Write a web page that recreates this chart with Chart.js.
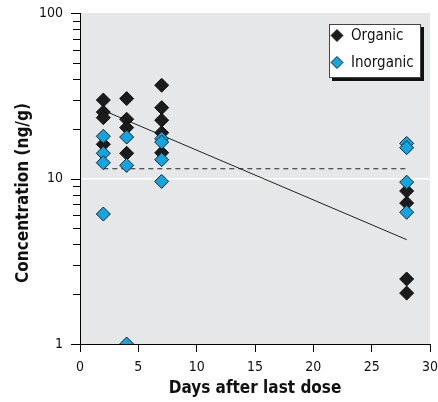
<!DOCTYPE html>
<html>
<head>
<meta charset="utf-8">
<script src="https://cdn.jsdelivr.net/npm/chart.js@4/dist/chart.umd.min.js"></script>
<style>
  html, body { margin: 0; padding: 0; background: #fff; }
  #wrap { width: 438px; height: 402px; }
</style>
</head>
<body>
<div id="wrap"><canvas id="c" width="438" height="402"></canvas></div>
<script>
// Days after last dose vs. concentration (ng/g), log scale
const organicDays = [2, 2, 2, 2, 4, 4, 4, 4, 7, 7, 7, 7, 7, 28, 28, 28, 28];
const organicConc = [29.8, 25.2, 23.3, 16.1, 30.4, 22.8, 20.3, 14.2, 36.6, 26.8, 22.5, 18.9, 14.3, 8.4, 7.1, 2.47, 2.03];

const inorganicDays = [2, 2, 2, 2, 4, 4, 4, 7, 7, 7, 7, 28, 28, 28, 28];
const inorganicConc = [18.0, 14.2, 12.45, 6.1, 17.8, 12.0, 1.0, 17.4, 16.6, 13.0, 9.6, 16.3, 15.35, 9.5, 6.25];

// fitted lines
const fitDays = [2, 28];
const fitConc = [25.8, 4.27];
const meanDays = [2, 28];
const meanConc = [11.45, 11.45];

const xTicks = [0, 5, 10, 15, 20, 25, 30];
const yTicks = [1, 2, 3, 4, 5, 6, 7, 8, 9, 10, 20, 30, 40, 50, 60, 70, 80, 90, 100];
const yLabels = [1, 10, 100];

const FONT = "'Liberation Sans Narrow', 'Arial Narrow', 'DejaVu Sans Condensed', sans-serif";
const blue = '#12a5e3';
const black = '#1c1c1c';

function pts(xs, ys) { return xs.map((x, i) => ({ x: x, y: ys[i] })); }

const bgPlugin = {
  id: 'plotBg',
  beforeDraw(chart) {
    const a = chart.chartArea, ctx = chart.ctx;
    ctx.save();
    ctx.fillStyle = '#e6e7e8';
    ctx.fillRect(a.left, a.top, a.right - a.left, a.bottom - a.top);
    ctx.restore();
  }
};

function diamond(ctx, x, y, r, fill) {
  ctx.beginPath();
  ctx.moveTo(x, y - r); ctx.lineTo(x + r, y); ctx.lineTo(x, y + r); ctx.lineTo(x - r, y);
  ctx.closePath();
  ctx.fillStyle = fill; ctx.fill();
  ctx.strokeStyle = '#222'; ctx.lineWidth = 1; ctx.stroke();
}

const extrasPlugin = {
  id: 'extras',
  afterDraw(chart) {
    const ctx = chart.ctx, ys = chart.scales.y;
    ctx.save();
    // log axis tick marks: long at decades, short in between
    ctx.fillStyle = '#000';
    yTicks.forEach(v => {
      const py = Math.round(ys.getPixelForValue(v));
      const len = yLabels.includes(v) ? 9 : 7;
      ctx.fillRect(Math.round(ys.right) - len, py, len, 1);
    });
    // legend box with drop shadow
    const bx = 329, by = 24, bw = 92, bh = 54;
    ctx.fillStyle = '#111';
    ctx.fillRect(bx + 3, by + 3, bw, bh);
    ctx.fillStyle = '#fff';
    ctx.fillRect(bx, by, bw, bh);
    ctx.strokeStyle = '#444'; ctx.lineWidth = 1;
    ctx.strokeRect(bx + 0.5, by + 0.5, bw - 1, bh - 1);
    const items = [chart.data.datasets[1], chart.data.datasets[0]];
    ctx.font = '15px ' + FONT;
    ctx.textBaseline = 'middle';
    items.forEach((d, i) => {
      const cy = by + 11.5 + i * 27;
      diamond(ctx, bx + 8, cy, 6, d.backgroundColor);
      ctx.fillStyle = '#111';
      ctx.fillText(d.label, bx + 22, cy + 1);
    });
    // y axis title
    ctx.translate(24, 193);
    ctx.rotate(-Math.PI / 2);
    ctx.font = 'bold 17px ' + FONT;
    ctx.textAlign = 'center';
    ctx.fillStyle = '#111';
    ctx.fillText('Concentration (ng/g)', 0, 0);
    ctx.restore();
  }
};

new Chart(document.getElementById('c'), {
  data: {
    datasets: [
      {
        type: 'scatter', label: 'Inorganic', order: 1,
        data: pts(inorganicDays, inorganicConc),
        pointStyle: 'rectRot', pointRadius: 7, pointHoverRadius: 7,
        backgroundColor: blue, borderColor: '#222', borderWidth: 1
      },
      {
        type: 'scatter', label: 'Organic', order: 2,
        data: pts(organicDays, organicConc),
        pointStyle: 'rectRot', pointRadius: 7, pointHoverRadius: 7,
        backgroundColor: black, borderColor: '#111', borderWidth: 1
      },
      {
        type: 'line', label: 'fit', order: 3,
        data: pts(fitDays, fitConc),
        borderColor: '#222', borderWidth: 1, pointRadius: 0, fill: false
      },
      {
        type: 'line', label: 'mean', order: 4,
        data: pts(meanDays, meanConc),
        borderColor: '#222', borderWidth: 1, borderDash: [5, 4], pointRadius: 0, fill: false
      }
    ]
  },
  options: {
    responsive: false,
    animation: false,
    layout: { padding: { top: 13, right: 7, left: 0, bottom: 0 } },
    plugins: { legend: { display: false }, tooltip: { enabled: false } },
    scales: {
      x: {
        type: 'linear', min: 0, max: 30,
        afterFit(s) { s.height = 58; s.paddingLeft = 0; s.paddingRight = 0; },
        afterBuildTicks(s) { s.ticks = xTicks.map(v => ({ value: v })); },
        grid: { drawOnChartArea: false, tickLength: 8, tickColor: '#000', tickWidth: 1 },
        border: { display: true, color: '#000', width: 1 },
        ticks: { color: '#111', font: { family: FONT, size: 14 }, padding: 7, maxRotation: 0 },
        title: { display: true, text: 'Days after last dose', color: '#111',
          font: { family: FONT, size: 17, weight: 'bold' }, padding: { top: 0, bottom: 3 } }
      },
      y: {
        type: 'logarithmic', min: 1, max: 100,
        afterFit(s) { s.width = 80; s.paddingTop = 0; s.paddingBottom = 0; },
        afterBuildTicks(s) { s.ticks = yTicks.map(v => ({ value: v, major: yLabels.includes(v) })); },
        grid: {
          tickLength: 8, tickColor: 'rgba(0,0,0,0)', tickWidth: 1,
          color: c => (c.tick && c.tick.value === 10) ? '#ffffff' : 'rgba(0,0,0,0)',
          lineWidth: c => (c.tick && c.tick.value === 10) ? 1.5 : 1
        },
        border: { display: true, color: '#000', width: 1 },
        ticks: {
          autoSkip: false, color: '#111', padding: 9,
          font: { family: FONT, size: 14 },
          callback: v => yLabels.includes(v) ? String(v) : ''
        }
      }
    }
  },
  plugins: [bgPlugin, extrasPlugin]
});
</script>
</body>
</html>
